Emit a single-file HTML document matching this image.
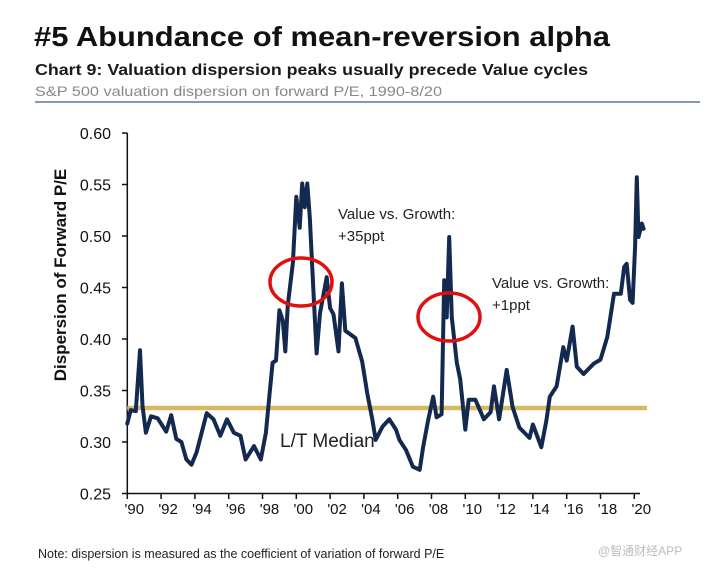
<!DOCTYPE html>
<html><head><meta charset="utf-8"><style>
body{margin:0;background:#fff;}
svg text{font-family:"Liberation Sans","Noto Sans CJK SC",sans-serif;}
</style></head><body>
<svg id="c" width="716" height="570" viewBox="0 0 716 570" xmlns="http://www.w3.org/2000/svg">
<text x="34" y="46" font-size="28" font-weight="bold" fill="#111" textLength="576" lengthAdjust="spacingAndGlyphs">#5 Abundance of mean-reversion alpha</text>
<text x="35" y="75" font-size="16" font-weight="bold" fill="#1a1a1a" textLength="553" lengthAdjust="spacingAndGlyphs">Chart 9: Valuation dispersion peaks usually precede Value cycles</text>
<text x="35" y="96" font-size="14" fill="#888" textLength="407" lengthAdjust="spacingAndGlyphs">S&amp;P 500 valuation dispersion on forward P/E, 1990-8/20</text>
<line x1="35" y1="102" x2="700" y2="102" stroke="#3a5a8a" stroke-width="1.2"/>
<text transform="translate(66,275) rotate(-90)" text-anchor="middle" font-size="17" font-weight="bold" fill="#111">Dispersion of Forward P/E</text>
<g id="axes"></g>
<g id="series"></g>
<text x="338" y="219" font-size="15" fill="#222">Value vs. Growth:</text>
<text x="338" y="241" font-size="15" fill="#222">+35ppt</text>
<text x="492" y="288" font-size="15" fill="#222">Value vs. Growth:</text>
<text x="492" y="310" font-size="15" fill="#222">+1ppt</text>
<ellipse cx="301" cy="282" rx="31" ry="24" fill="none" stroke="#e01010" stroke-width="3.5"/>
<ellipse cx="449" cy="317" rx="31" ry="24" fill="none" stroke="#e01010" stroke-width="3.5"/>
<text x="280" y="447" font-size="19" fill="#222">L/T Median</text>
<text x="38" y="558" font-size="12.5" fill="#222">Note: dispersion is measured as the coefficient of variation of forward P/E</text>
<text x="598" y="555" font-size="12" fill="#bbb">@智通财经APP</text>
</svg>
<script>
const years=[1990.0,1990.2,1990.5,1990.75,1990.9,1991.1,1991.4,1991.8,1992.3,1992.6,1992.9,1993.2,1993.5,1993.8,1994.1,1994.7,1995.1,1995.5,1995.9,1996.3,1996.7,1997.0,1997.5,1997.9,1998.2,1998.4,1998.6,1998.8,1999.0,1999.2,1999.35,1999.5,1999.8,2000.0,2000.2,2000.35,2000.5,2000.65,2000.8,2001.0,2001.2,2001.4,2001.8,2002.0,2002.2,2002.5,2002.7,2002.9,2003.5,2003.9,2004.2,2004.5,2004.7,2005.1,2005.5,2005.9,2006.1,2006.5,2006.9,2007.3,2007.5,2007.8,2008.1,2008.3,2008.6,2008.75,2008.9,2009.05,2009.2,2009.5,2009.7,2010.0,2010.2,2010.6,2011.1,2011.5,2011.7,2012.0,2012.45,2012.8,2013.2,2013.8,2014.0,2014.5,2014.8,2015.0,2015.4,2015.8,2016.0,2016.35,2016.6,2017.0,2017.6,2018.0,2018.4,2018.8,2019.2,2019.4,2019.55,2019.75,2019.9,2020.05,2020.15,2020.25,2020.45,2020.55];
const values=[0.318,0.331,0.330,0.389,0.335,0.309,0.325,0.323,0.310,0.326,0.303,0.300,0.283,0.278,0.290,0.328,0.322,0.306,0.322,0.309,0.306,0.283,0.296,0.283,0.309,0.344,0.377,0.379,0.428,0.418,0.388,0.433,0.474,0.538,0.508,0.551,0.528,0.551,0.518,0.451,0.386,0.425,0.460,0.430,0.424,0.388,0.454,0.408,0.401,0.378,0.347,0.322,0.302,0.315,0.322,0.312,0.302,0.292,0.276,0.273,0.295,0.321,0.344,0.324,0.327,0.457,0.421,0.499,0.421,0.377,0.361,0.312,0.341,0.341,0.322,0.329,0.354,0.322,0.370,0.334,0.314,0.304,0.317,0.295,0.321,0.344,0.354,0.392,0.379,0.412,0.373,0.366,0.376,0.380,0.402,0.444,0.444,0.470,0.473,0.438,0.435,0.490,0.557,0.499,0.512,0.507];
const yTicks=[0.25,0.30,0.35,0.40,0.45,0.50,0.55,0.60];
const xTickYears=[1990,1992,1994,1996,1998,2000,2002,2004,2006,2008,2010,2012,2014,2016,2018,2020];
const xTickLabels=["'90","'92","'94","'96","'98","'00","'02","'04","'06","'08","'10","'12","'14","'16","'18","'20"];
const median=0.333;
const NS="http://www.w3.org/2000/svg";
const X=y=>127.3+(y-1990)*16.9;
const Y=v=>493.5-(v-0.25)*1030;
function mk(tag,attrs,parent){const e=document.createElementNS(NS,tag);for(const k in attrs)e.setAttribute(k,attrs[k]);parent.appendChild(e);return e;}
const ax=document.getElementById('axes');
let e=mk('line',{x1:127.3,y1:Y(0.60),x2:127.3,y2:493.5,stroke:'#111','stroke-width':1.5},ax);


e=mk('line',{x1:127.3,y1:493.5,x2:640,y2:493.5,stroke:'#111','stroke-width':1.5},ax);


yTicks.forEach(v=>{
  const t=mk('line',{x1:122,y1:Y(v),x2:127.3,y2:Y(v),stroke:'#111','stroke-width':1.5},ax);
  
  
  const l=mk('text',{x:111,y:Y(v)+6,'text-anchor':'end','font-size':16,fill:'#111'},ax);
  l.textContent=v.toFixed(2);
  
  
});
xTickYears.forEach((yr,i)=>{
  const t=mk('line',{x1:X(yr),y1:493.5,x2:X(yr),y2:499,stroke:'#111','stroke-width':1.5},ax);
  
  
  const l=mk('text',{x:X(yr)+7,y:514,'text-anchor':'middle','font-size':15,fill:'#111'},ax);
  l.textContent=xTickLabels[i];
  
  
});
const sg=document.getElementById('series');
const ml=mk('line',{x1:127.3,y1:Y(median),x2:647,y2:Y(median),stroke:'#d8b860','stroke-width':4.5},sg);


const d=years.map((yr,i)=>(i?'L':'M')+X(yr).toFixed(1)+','+Y(values[i]).toFixed(1)).join(' ');
const p=mk('path',{d:d,fill:'none',stroke:'#13294f','stroke-width':4,'stroke-linejoin':'round','stroke-linecap':'round'},sg);


</script>
</body></html>
